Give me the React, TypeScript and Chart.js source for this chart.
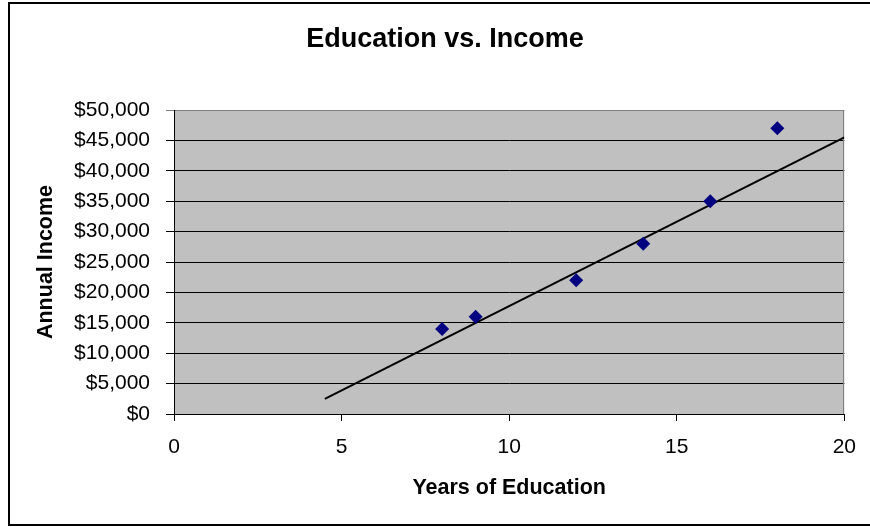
import React, { useEffect, useRef } from "react";
import { Chart, registerables } from "chart.js";

Chart.register(...registerables);

// ---- data ----
const chartTitle = "Education vs. Income";
const xAxisTitle = "Years of Education";
const yAxisTitle = "Annual Income";
const years = [8, 9, 12, 14, 16, 18];
const income = [14000, 16000, 22000, 28000, 35000, 47000];
const trendYears = [4.5, 20];
const trendIncome = [2500, 45500];
const xTickValues = [0, 5, 10, 15, 20];
const yTickValues = [0, 5000, 10000, 15000, 20000, 25000, 30000, 35000, 40000, 45000, 50000];

const FONT = '"Liberation Sans", Arial, Helvetica, sans-serif';

const framePlugin = {
  id: "excelFrame",
  beforeDraw(chart: any) {
    const { ctx, chartArea: a, width, height } = chart;
    ctx.save();
    ctx.fillStyle = "#ffffff";
    ctx.fillRect(0, 0, width, height);
    ctx.fillStyle = "#000000";
    ctx.fillRect(8, 2, width - 8, 2);
    ctx.fillRect(8, 2, 2, 524);
    ctx.fillRect(8, 524, width - 8, 2);
    ctx.fillStyle = "#C0C0C0";
    ctx.fillRect(a.left, a.top, a.right - a.left, a.bottom - a.top);
    ctx.restore();
  },
  beforeDatasetsDraw(chart: any) {
    const { ctx, chartArea: a } = chart;
    ctx.save();
    ctx.strokeStyle = "#808080";
    ctx.lineWidth = 1;
    ctx.beginPath();
    ctx.moveTo(Math.round(a.right) - 0.5, a.top);
    ctx.lineTo(Math.round(a.right) - 0.5, a.bottom);
    ctx.stroke();
    ctx.restore();
  },
  afterDraw(chart: any) {
    const { ctx } = chart;
    ctx.save();
    ctx.fillStyle = "#000000";
    ctx.font = `bold 27px ${FONT}`;
    ctx.textAlign = "center";
    ctx.textBaseline = "middle";
    ctx.fillText(chartTitle, 445, 40);
    ctx.restore();
  },
};

export default function App() {
  const canvasRef = useRef<HTMLCanvasElement | null>(null);

  useEffect(() => {
    document.body.style.margin = "0";
    const canvas = canvasRef.current;
    if (!canvas) return;

    const chart = new Chart(canvas, {
      type: "scatter",
      data: {
        datasets: [
          {
            label: "Income",
            data: years.map((x, i) => ({ x, y: income[i] })),
            pointStyle: "rectRot",
            pointRadius: 7,
            pointHoverRadius: 7,
            backgroundColor: "#000080",
            borderColor: "#000080",
            borderWidth: 0,
            showLine: false,
          },
          {
            label: "Trend",
            data: trendYears.map((x, i) => ({ x, y: trendIncome[i] })),
            showLine: true,
            borderColor: "#000000",
            borderWidth: 2,
            pointRadius: 0,
            pointHoverRadius: 0,
            fill: false,
          },
        ],
      },
      options: {
        responsive: false,
        animation: false,
        layout: { padding: { left: 20, right: 23, top: 110, bottom: 14 } },
        plugins: {
          legend: { display: false },
          title: { display: false },
          tooltip: { enabled: false },
        },
        scales: {
          x: {
            type: "linear",
            min: 0,
            max: 20,
            afterBuildTicks: (scale: any) => {
              scale.ticks = xTickValues.map((v) => ({ value: v }));
            },
            afterFit: (scale: any) => {
              scale.height = 99;
            },
            ticks: {
              color: "#000000",
              font: { family: FONT, size: 21 },
              padding: 14,
              maxRotation: 0,
              autoSkip: false,
            },
            grid: {
              drawOnChartArea: false,
              drawTicks: true,
              tickLength: 7,
              color: "#000000",
            },
            border: { display: true, color: "#000000", width: 1 },
            title: {
              display: true,
              text: xAxisTitle,
              color: "#000000",
              font: { family: FONT, size: 21.5, weight: "bold" },
              padding: { top: 0, bottom: 12 },
            },
          },
          y: {
            type: "linear",
            min: 0,
            max: 50000,
            afterBuildTicks: (scale: any) => {
              scale.ticks = yTickValues.map((v) => ({ value: v }));
            },
            afterFit: (scale: any) => {
              scale.width = 154;
            },
            ticks: {
              color: "#000000",
              font: { family: FONT, size: 21 },
              padding: 16,
              autoSkip: false,
              callback: (v: any) => "$" + Number(v).toLocaleString("en-US"),
            },
            grid: {
              color: (c: any) => (c.tick && c.tick.value === 50000 ? "#808080" : "#000000"),
              tickLength: 8,
            },
            border: { display: true, color: "#000000", width: 1 },
            title: {
              display: true,
              text: yAxisTitle,
              color: "#000000",
              font: { family: FONT, size: 21.5, weight: "bold" },
              padding: { top: 13, bottom: 0 },
            },
          },
        },
      },
      plugins: [framePlugin],
    });

    return () => {
      chart.destroy();
    };
  }, []);

  return (
    <div style={{ width: 870, height: 527 }}>
      <canvas ref={canvasRef} width={870} height={527} style={{ display: "block" }} />
    </div>
  );
}
